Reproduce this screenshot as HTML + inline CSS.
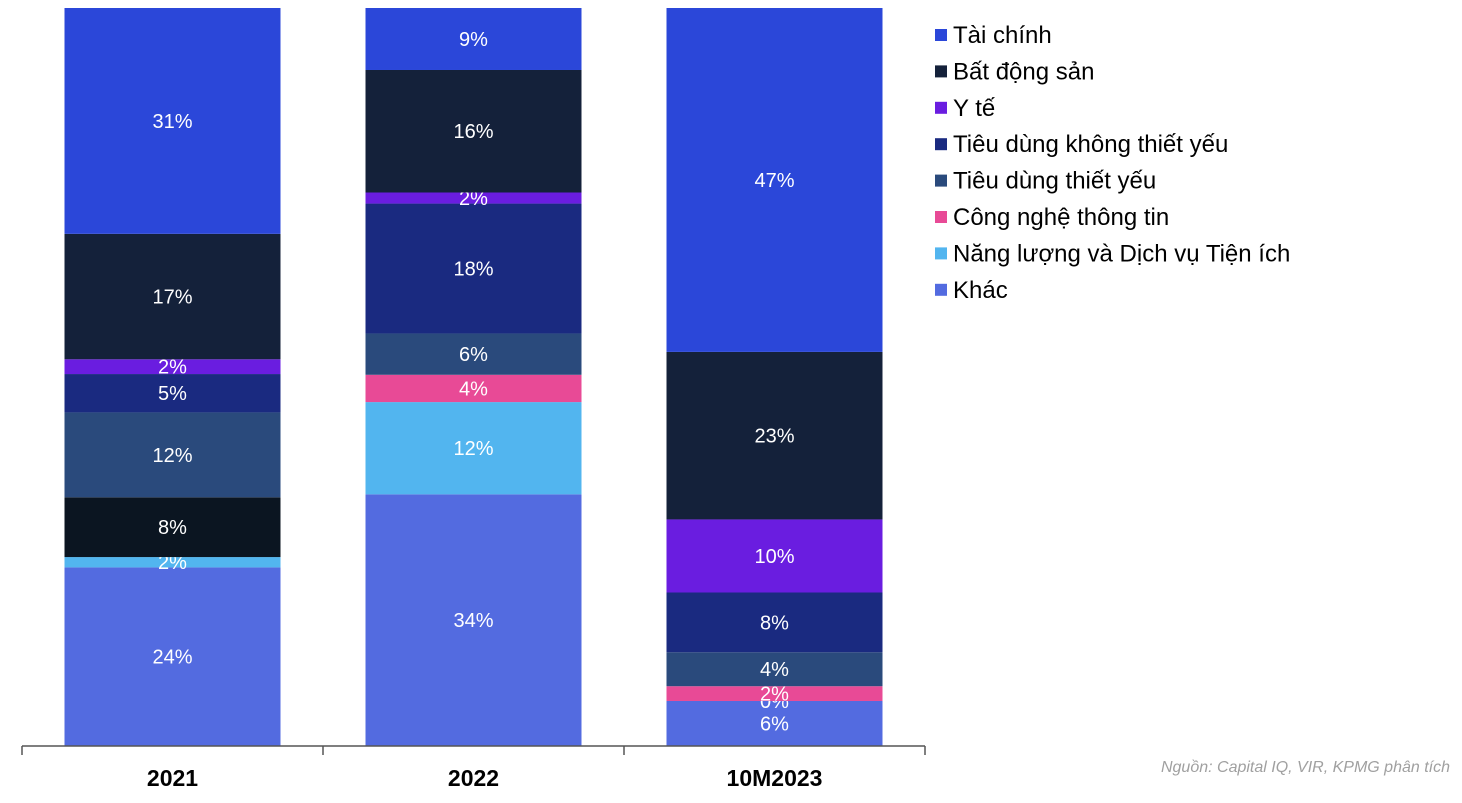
<!DOCTYPE html>
<html><head><meta charset="utf-8">
<style>
body{margin:0;background:#fff;width:1462px;height:798px;overflow:hidden;font-family:"Liberation Sans",Arial,sans-serif;}
svg text{font-family:"Liberation Sans",Arial,sans-serif;}
</style></head>
<body>
<svg id="chart" width="1462" height="798" xmlns="http://www.w3.org/2000/svg"></svg>
<script>
const categories = ["2021","2022","10M2023"];
const seriesNames = ["Khác","Năng lượng và Dịch vụ Tiện ích","Khác 2","Công nghệ thông tin","Tiêu dùng thiết yếu","Tiêu dùng không thiết yếu","Y tế","Bất động sản","Tài chính"];
const seriesColors = ["#536be0","#52b5ef","#0b1521","#e84a96","#2a4a7c","#1a2a80","#6a1de0","#14213a","#2b47d9"];
const values2021 = [24.2,1.4,8.1,0,11.5,5.2,2.0,17.0,30.6];
const values2022 = [34.1,12.5,0,3.7,5.6,17.6,1.5,16.6,8.4];
const values2023 = [6.1,0,0,2.0,4.6,8.1,9.9,22.7,46.6];
const labels2021 = ["24%","2%","8%","","12%","5%","2%","17%","31%"];
const labels2022 = ["34%","12%","","4%","6%","18%","2%","16%","9%"];
const labels2023 = ["6%","0%","","2%","4%","8%","10%","23%","47%"];
const legendNames = ["Tài chính","Bất động sản","Y tế","Tiêu dùng không thiết yếu","Tiêu dùng thiết yếu","Công nghệ thông tin","Năng lượng và Dịch vụ Tiện ích","Khác"];
const legendColors = ["#2b47d9","#14213a","#6a1de0","#1a2a80","#2a4a7c","#e84a96","#52b5ef","#536be0"];

const allValues=[values2021,values2022,values2023];
const allLabels=[labels2021,labels2022,labels2023];
const NS="http://www.w3.org/2000/svg";
const svg=document.getElementById('chart');
const plotTop=8, plotBottom=746, axisLeft=22, axisRight=925;
const slot=(axisRight-axisLeft)/categories.length, barW=216;
function y(v){return plotBottom-(v/100)*(plotBottom-plotTop);}
function xc(i){return axisLeft+slot*(i+0.5);}
function mk(tag,attrs){const e=document.createElementNS(NS,tag);for(const k in attrs)e.setAttribute(k,attrs[k]);svg.appendChild(e);return e;}

categories.forEach((c,i)=>{
  let cum=0;
  const vals=allValues[i], labs=allLabels[i];
  vals.forEach((v,j)=>{
    const y0=y(cum), y1=y(cum+v);
    if(v>0){
      const r=mk('rect',{x:xc(i)-barW/2,y:y1,width:barW,height:y0-y1,fill:seriesColors[j]});
      
      
    }
    if(labs[j]){
      const t=mk('text',{x:xc(i),y:(y0+y1)/2+7,'text-anchor':'middle','font-size':'20',fill:'#fff'});
      t.textContent=labs[j];
      
      
    }
    cum+=v;
  });
  const tl=mk('text',{x:xc(i),y:786,'text-anchor':'middle','font-size':'23','font-weight':'bold',fill:'#000'});
  tl.textContent=c;
  
  
});
const ax=mk('line',{x1:axisLeft,x2:axisRight,y1:plotBottom,y2:plotBottom,stroke:'#555','stroke-width':1.5});


for(let k=0;k<=categories.length;k++){
  const tk=mk('line',{x1:axisLeft+slot*k,x2:axisLeft+slot*k,y1:plotBottom,y2:755,stroke:'#555','stroke-width':1.5});
  
  
}
legendNames.forEach((n,k)=>{
  const yy=35+k*36.4;
  const sq=mk('rect',{x:935,y:yy-6,width:12,height:12,fill:legendColors[k]});
  
  
  const t=mk('text',{x:953,y:yy+8,'font-size':'24',fill:'#000'});
  t.textContent=n;
  
  
});
const src=mk('text',{x:1450,y:772,'text-anchor':'end','font-size':'16','font-style':'italic',fill:'#a0a0a0'});
src.textContent='Nguồn: Capital IQ, VIR, KPMG phân tích';


</script>
</body></html>
